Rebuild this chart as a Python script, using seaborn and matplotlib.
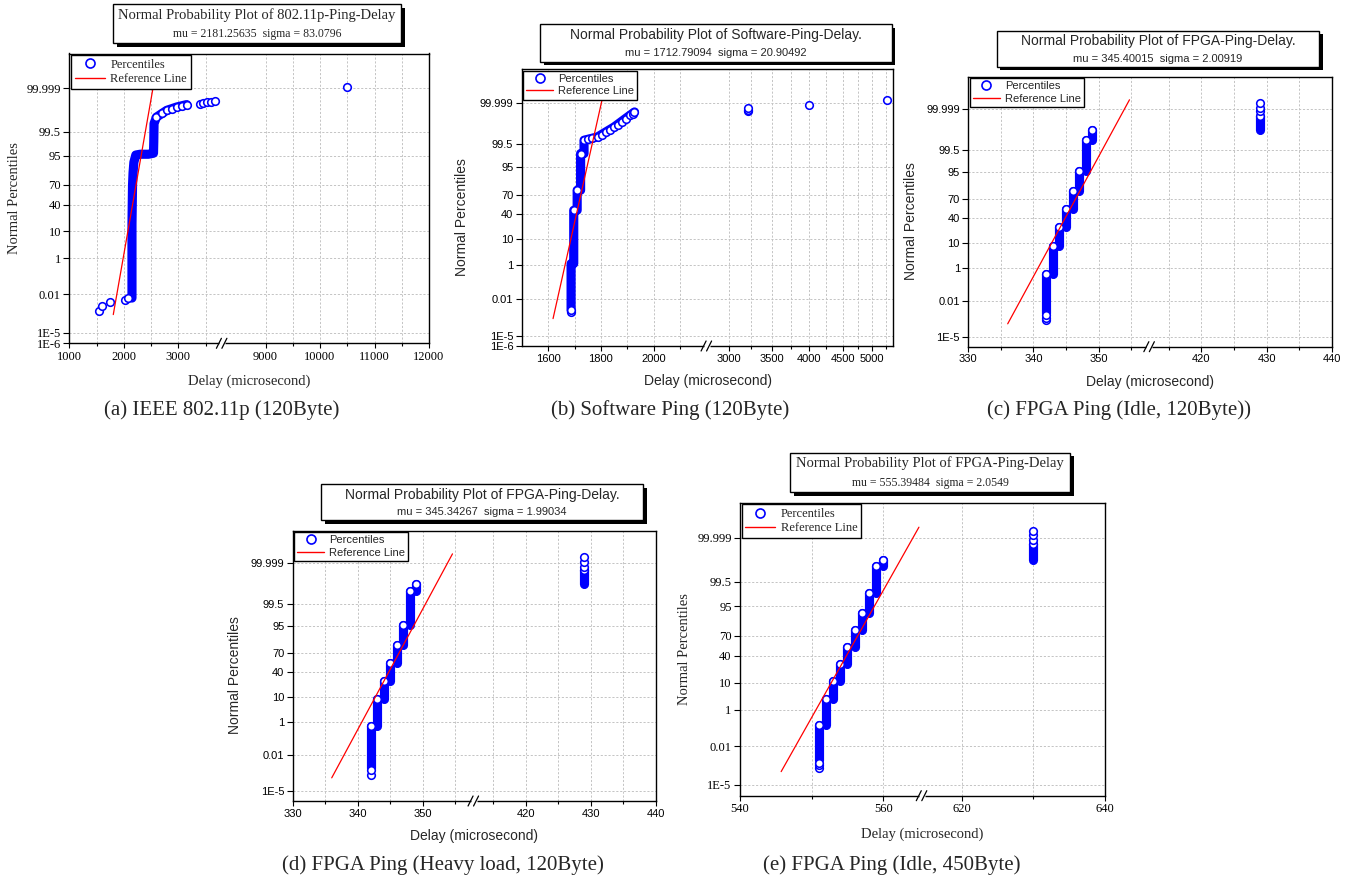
import numpy as np
import pandas as pd
import matplotlib
matplotlib.use("Agg")
import matplotlib.pyplot as plt
from matplotlib.patches import Rectangle
from matplotlib.lines import Line2D
from matplotlib.ticker import FixedLocator, FixedFormatter, NullFormatter
import seaborn as sns
from statistics import NormalDist

# ====================== data (delay in microsecond, percentile in %) ======================
# (a) IEEE 802.11p (120Byte)
a_band_x = [2150, 2150, 2160, 2170, 2185, 2220, 2300, 2450, 2545, 2550, 2555, 2600, 2787, 2971, 3154]
a_band_p = [0.00567, 15.87, 69.15, 84.13, 91.92, 95.35, 95.64, 95.64, 95.99, 98.61, 99.813, 99.918, 99.9675, 99.980, 99.986]
a_pts_x = [1545, 1600, 1750, 2022, 2083, 2600, 2700, 2787, 2880, 2971, 3060, 3154,
           3398, 3459, 3532, 3594, 3673, 10504]
a_pts_p = [0.00062, 0.00166, 0.0028, 0.0039, 0.0057, 99.918, 99.955, 99.9675, 99.975, 99.980, 99.9835, 99.986,
           99.988, 99.989, 99.9901, 99.9912, 99.9919, 99.9992]
a_ref_x = [1807, 2567]
a_ref_p = [0.00034, 99.999834]

# (b) Software Ping (120Byte)
b_band_x = [1687, 1687, 1697, 1697, 1710, 1710, 1723, 1723, 1736, 1736, 1787, 1850, 1901, 1927]
b_band_p = [0.00156, 1.16, 1.16, 45.78, 45.78, 75.99, 75.99, 98.59, 98.59, 99.688, 99.794, 99.947, 99.9883, 99.9948]
b_pts_x = [1687, 1688, 1697, 1710, 1723, 1736, 1750, 1765, 1787, 1805, 1820, 1835, 1850, 1865, 1880,
           1895, 1910, 1920, 1927, 3216, 3216, 3220, 4000, 5263]
b_pts_p = [0.00122, 0.00156, 45.78, 75.99, 98.59, 99.688, 99.728, 99.752, 99.794, 99.841, 99.886, 99.921,
           99.947, 99.9624, 99.973, 99.9841, 99.9908, 99.9933, 99.9948, 99.99575, 99.99655, 99.99744,
           99.99837, 99.999344]
b_ref_x = [1618.7, 1810]
b_ref_p = [0.00034, 99.999834]

# (c) FPGA Ping (Idle, 120Byte)
c_delay = [342, 343, 344, 345, 346, 347, 348, 349, 429]
c_top = [0.49, 7.4, 26.0, 54.0, 80.0, 95.3, 99.86, 99.967, 99.9968]
c_low = 0.0013
c_tail_x = [342, 342, 342, 429, 429, 429]
c_tail_p = [0.00034, 0.00054, 0.00085, 99.99848, 99.999255, 99.999683]
c_ref_x = [336.05, 354.75]
c_ref_p = [0.000158, 99.999836]

# (d) FPGA Ping (Heavy load, 120Byte)
d_delay = [342, 343, 344, 345, 346, 347, 348, 349, 429]
d_top = [0.66, 8.3, 27.0, 55.0, 80.9, 95.7, 99.9, 99.967, 99.9968]
d_low = 0.00107
d_tail_x = [342, 342, 429, 429, 429]
d_tail_p = [0.0003, 0.0007, 99.99793, 99.99917, 99.99968]
d_ref_x = [336.0, 354.56]
d_ref_p = [0.000166, 99.999834]

# (e) FPGA Ping (Idle, 450Byte)
e_delay = [551, 552, 553, 554, 555, 556, 557, 558, 559, 560, 630]
e_top = [0.18, 2.76, 11.4, 29.0, 54.0, 76.6, 91.8, 98.4, 99.93, 99.968, 99.9974]
e_low = 0.00107
e_tail_x = [551, 551, 551, 630, 630, 630]
e_tail_p = [0.00026, 0.00043, 0.00068, 99.99867, 99.99938, 99.99971]
e_ref_x = [545.75, 565.0]
e_ref_p = [0.000137, 99.999852]

# ticks
y_ticks = [1e-6, 1e-5, 0.01, 1, 10, 40, 70, 95, 99.5, 99.999]
y_tick_labels = ["1E-6", "1E-5", "0.01", "1", "10", "40", "70", "95", "99.5", "99.999"]

titles = ["Normal Probability Plot of 802.11p-Ping-Delay",
          "Normal Probability Plot of Software-Ping-Delay.",
          "Normal Probability Plot of FPGA-Ping-Delay.",
          "Normal Probability Plot of FPGA-Ping-Delay.",
          "Normal Probability Plot of FPGA-Ping-Delay"]
subtitles = ["mu = 2181.25635  sigma = 83.0796",
             "mu = 1712.79094  sigma = 20.90492",
             "mu = 345.40015  sigma = 2.00919",
             "mu = 345.34267  sigma = 1.99034",
             "mu = 555.39484  sigma = 2.0549"]
captions = ["(a) IEEE 802.11p (120Byte)", "(b) Software Ping (120Byte)",
            "(c) FPGA Ping (Idle, 120Byte))", "(d) FPGA Ping (Heavy load, 120Byte)",
            "(e) FPGA Ping (Idle, 450Byte)"]

# ====================== style ======================
sns.set_theme(style="white")
plt.rcParams["font.family"] = ["Liberation Sans", "DejaVu Sans"]
SERIF = ["Liberation Serif", "DejaVu Serif"]
SANS = ["Liberation Sans", "DejaVu Sans"]
W, H = 1357, 877
BLUE = "#0000ff"

# ---------- scales ----------
_nd = NormalDist()


def _ppf(q):
    if q != q:
        return float("nan")
    return _nd.inv_cdf(min(max(q, 1e-15), 1 - 1e-15))


_ppf_v = np.vectorize(_ppf, otypes=[float])
_cdf_v = np.vectorize(lambda z: _nd.cdf(z) if z == z else float("nan"), otypes=[float])


def prob_fwd(p):
    return _ppf_v(np.asarray(p, dtype=float) / 100.0)


def prob_inv(z):
    return 100.0 * _cdf_v(np.asarray(z, dtype=float))


def broken_linear(b1, b2):
    g = b2 - b1
    eps = 1e-9

    def fwd(x):
        x = np.asarray(x, dtype=float)
        return np.where(x <= b1, x, np.where(x >= b2, x - g + g * eps, b1 + (x - b1) * eps))

    def inv(u):
        u = np.asarray(u, dtype=float)
        t = b1 + g * eps
        return np.where(u <= b1, u, np.where(u >= t, u + g - g * eps, b1 + (u - b1) / eps))

    return fwd, inv


def lin_log(x0, b1, b2, left_px, px_per_decade):
    k = left_px / (b1 - x0)

    def fwd(x):
        x = np.asarray(x, dtype=float)
        left = (x - x0) * k
        right = left_px + px_per_decade * np.log10(np.clip(x, 1e-9, None) / b2)
        mid = left_px + (x - b1) * 1e-9
        return np.where(x <= b1, left, np.where(x >= b2, right, mid))

    def inv(u):
        u = np.asarray(u, dtype=float)
        return np.where(u <= left_px, x0 + u / k, b2 * 10 ** ((u - left_px) / px_per_decade))

    return fwd, inv


fig = plt.figure(figsize=(W / 100, H / 100), dpi=100)


def add_axes_px(l, t, r, b):
    return fig.add_axes([l / W, 1 - b / H, (r - l) / W, (b - t) / H])


def col_bands(delays, tops, low):
    rows = []
    for i, d in enumerate(delays):
        lo = low if i == 0 else tops[i - 1]
        rows.append((d, lo, i))
        rows.append((d, tops[i], i))
    return pd.DataFrame(rows, columns=["x", "p", "seg"])


def draw_panel(ax, band_df, pts_x, pts_p, ref_x, ref_p, xfun, xlim, xmaj, xmin, brk,
               serif, ylabels_idx):
    fam = SERIF if serif else SANS
    ax.set_xscale("function", functions=xfun)
    ax.set_yscale("function", functions=(prob_fwd, prob_inv))
    ax.set_axisbelow(True)

    sns.lineplot(data=band_df, x="x", y="p", units="seg", estimator=None, sort=False,
                 color=BLUE, lw=6.6, solid_capstyle="round", ax=ax, legend=False, zorder=2)
    sns.scatterplot(x=pts_x, y=pts_p, ax=ax, marker="o", s=30, facecolor="white",
                    edgecolor=BLUE, linewidth=1.15, zorder=3, legend=False)
    sns.lineplot(x=ref_x, y=ref_p, ax=ax, color="red", lw=0.9, sort=False,
                 estimator=None, legend=False, zorder=4)

    ax.set_xlim(*xlim)
    ax.set_ylim(1e-6, 100 - 1e-6)
    ax.xaxis.set_major_locator(FixedLocator(xmaj))
    ax.xaxis.set_major_formatter(FixedFormatter([str(v) for v in xmaj]))
    ax.xaxis.set_minor_locator(FixedLocator(xmin))
    ax.xaxis.set_minor_formatter(NullFormatter())
    yt = [y_ticks[i] for i in ylabels_idx]
    ytl = [y_tick_labels[i] for i in ylabels_idx]
    ax.yaxis.set_major_locator(FixedLocator(yt))
    ax.yaxis.set_major_formatter(FixedFormatter(ytl))
    ax.yaxis.set_minor_locator(FixedLocator([]))
    ax.set_xlabel("")
    ax.set_ylabel("")

    gkw = dict(color="#c4c4c4", linestyle=(0, (2.2, 1.8)), linewidth=0.7)
    ax.xaxis.grid(True, which="both", **gkw)
    ax.yaxis.grid(True, which="major", **gkw)

    tsz = 9 if serif else 8
    ax.tick_params(axis="both", which="both", direction="out", top=False, right=False,
                   bottom=True, left=True, color="black", width=0.8,
                   labelsize=tsz, labelfontfamily=fam[0], labelcolor="black")
    ax.tick_params(axis="x", which="major", length=3.5, pad=2)
    ax.tick_params(axis="x", which="minor", length=2.5)
    ax.tick_params(axis="y", which="major", length=4, pad=2)
    for sp in ax.spines.values():
        sp.set_linewidth(1.0)
        sp.set_color("black")
        sp.set_visible(True)

    lsz = 9 if serif else 8
    h1 = Line2D([], [], linestyle="none", marker="o", markersize=6.5, markerfacecolor="white",
                markeredgecolor=BLUE, markeredgewidth=1.2)
    h2 = Line2D([], [], color="red", lw=1.0)
    leg = ax.legend(handles=[h1, h2], labels=["Percentiles", "Reference Line"], loc="upper left",
                    bbox_to_anchor=(0.0, 1.0), borderaxespad=0.12, fancybox=False, framealpha=1,
                    edgecolor="black", facecolor="white", handlelength=2.4, handletextpad=0.45,
                    borderpad=0.3, labelspacing=0.2, prop={"family": fam[0], "size": lsz})
    leg.get_frame().set_linewidth(1.0)
    leg.set_zorder(10)

    # axis break marker
    fig.canvas.draw_idle()
    pt = ax.transData.transform((brk, 1.0))
    f = ax.transAxes.inverted().transform(pt)[0]
    bb = ax.get_position()
    wpx, hpx = bb.width * W, bb.height * H
    dx, dy = 1.0 / wpx, 1.0 / hpx
    ax.plot([f - 3 * dx, f + 3 * dx], [0, 0], transform=ax.transAxes, color="white",
            lw=2.5, clip_on=False, zorder=11, solid_capstyle="butt")
    for off in (-3.0, 2.5):
        ax.plot([f + (off - 2.5) * dx, f + (off + 2.5) * dx], [-5 * dy, 5 * dy],
                transform=ax.transAxes, color="black", lw=0.9, clip_on=False, zorder=12)


def title_box(l, t, r, b, line1, line2, y1, y2, serif):
    fam = SERIF if serif else SANS
    s1, s2 = (10.5, 8.5) if serif else (10, 8)
    sh = 3.5
    fig.add_artist(Rectangle(((l + sh) / W, 1 - (b + sh) / H), (r - l) / W, (b - t) / H,
                             transform=fig.transFigure, facecolor="black", edgecolor="black", lw=0))
    fig.add_artist(Rectangle((l / W, 1 - b / H), (r - l) / W, (b - t) / H,
                             transform=fig.transFigure, facecolor="white", edgecolor="black", lw=1.0))
    cx = (l + r) / 2
    fig.text(cx / W, 1 - y1 / H, line1, ha="center", va="center", fontsize=s1, family=fam)
    fig.text(cx / W, 1 - y2 / H, line2, ha="center", va="center", fontsize=s2, family=fam)


def labels(xl, yl, cap, serif):
    fam = SERIF if serif else SANS
    sz = 10.5 if serif else 10
    fig.text(xl[0] / W, 1 - xl[1] / H, "Delay (microsecond)", ha="center", va="center",
             fontsize=sz, family=fam)
    fig.text(yl[0] / W, 1 - yl[1] / H, "Normal Percentiles", ha="center", va="center",
             fontsize=sz, family=fam, rotation=90)
    fig.text(cap[0] / W, 1 - cap[1] / H, cap[2], ha="center", va="center", fontsize=15,
             family=SERIF)


ALL_Y = list(range(10))
NO_1E6 = list(range(1, 10))

# ---- (a)
ax_a = add_axes_px(69.3, 53.5, 429, 343.3)
band_a = pd.DataFrame({"x": a_band_x, "p": a_band_p, "seg": 0})
draw_panel(ax_a, band_a, a_pts_x, a_pts_p, a_ref_x, a_ref_p, broken_linear(3800, 8200),
           (1000, 12000), [1000, 2000, 3000, 9000, 10000, 11000, 12000],
           [1500, 2500, 3500, 9500, 10500, 11500], 3800, True, ALL_Y)
title_box(113.3, 4.3, 401, 43.3, titles[0], subtitles[0], 15, 34.3, True)
labels((249, 381), (15, 198.3), (221.7, 410, captions[0]), True)

# ---- (b)
ax_b = add_axes_px(521.7, 69.3, 893.3, 346)
band_b = pd.DataFrame({"x": b_band_x, "p": b_band_p, "seg": 0})
draw_panel(ax_b, band_b, b_pts_x, b_pts_p, b_ref_x, b_ref_p, lin_log(1500, 2200, 2775, 185.0, 648.0),
           (1500, 5390), [1600, 1800, 2000, 3000, 3500, 4000, 4500, 5000],
           [1700, 1900, 2100, 3250, 3750, 4250, 4750, 5250], 2200, False, ALL_Y)
title_box(540, 24.3, 891.7, 61.7, titles[1], subtitles[1], 35, 52.7, False)
labels((707.8, 381), (462.5, 216.7), (670.5, 410, captions[1]), False)

# ---- (c)
ax_c = add_axes_px(968.3, 76.7, 1331.7, 346.7)
draw_panel(ax_c, col_bands(c_delay, c_top, c_low), c_delay + c_tail_x, c_top + c_tail_p,
           c_ref_x, c_ref_p, broken_linear(357.8, 412.0), (330, 440),
           [330, 340, 350, 420, 430, 440], [335, 345, 355, 415, 425, 435], 357.8, False, NO_1E6)
title_box(996.7, 30.7, 1319, 66.7, titles[2], subtitles[2], 41, 58.7, False)
labels((1150, 381.7), (910.8, 221.3), (1119, 410, captions[2]), False)

# ---- (d)
ax_d = add_axes_px(292.7, 530.7, 655.7, 801)
draw_panel(ax_d, col_bands(d_delay, d_top, d_low), d_delay + d_tail_x, d_top + d_tail_p,
           d_ref_x, d_ref_p, broken_linear(357.8, 412.0), (330, 440),
           [330, 340, 350, 420, 430, 440], [335, 345, 355, 415, 425, 435], 357.8, False, NO_1E6)
title_box(321, 484.3, 643.3, 520, titles[3], subtitles[3], 495, 512, False)
labels((474.2, 835.7), (235, 675), (443.3, 865, captions[3]), False)

# ---- (e)
ax_e = add_axes_px(740, 502.7, 1105, 795.7)
draw_panel(ax_e, col_bands(e_delay, e_top, e_low), e_delay + e_tail_x, e_top + e_tail_p,
           e_ref_x, e_ref_p, broken_linear(565.4, 614.4), (540, 640),
           [540, 560, 620, 640], [550, 630], 565.4, True, NO_1E6)
title_box(790, 452.7, 1070, 492.3, titles[4], subtitles[4], 463.3, 482.7, True)
labels((922.2, 834.3), (684.2, 649.2), (891.5, 865, captions[4]), True)

fig.savefig("out.png", dpi=100)
